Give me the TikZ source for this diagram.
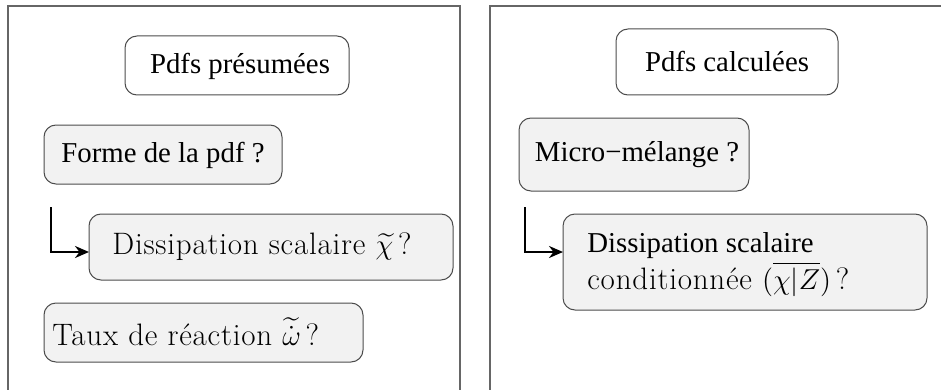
\documentclass[tikz,border=0pt]{standalone}
\usepackage{fontspec}
\usepackage{amsmath}
\newfontfamily\tms{Liberation Serif}
\newfontfamily\lmsp[LetterSpace=2.5]{Latin Modern Roman}
\usetikzlibrary{arrows.meta}
\tikzset{
  panel/.style={draw=black!60, line width=0.9pt},
  plainbox/.style={draw=black!70, rounded corners=6pt, line width=0.5pt, fill=white},
  qbox/.style={draw=black!70, rounded corners=6pt, line width=0.5pt, fill=black!5},
  txt/.style={inner sep=0pt, font=\fontsize{14.4}{17}\selectfont\tms},
  cmtxt/.style={inner sep=0pt, font=\fontsize{15.5}{18}\selectfont\lmsp},
  link/.style={draw=black, line width=1.4pt, -{Stealth[length=7pt,width=6pt]}},
}
\begin{document}
\begin{tikzpicture}[x=0.5pt,y=-0.5pt]
\useasboundingbox (0,0) rectangle (941,390);
% panels
\draw[panel] (8,392) -- (8,6) -- (460,6) -- (460,392);
\draw[panel] (490,392) -- (490,6) -- (943,6);
% left panel boxes
\draw[plainbox] (125,36) rectangle (349,95);
\node[txt] (pp) at (240,66) {Pdfs présumées};
\draw[qbox] (44,125) rectangle (282,184);
\node[txt] (fp) at (163,155) {Forme de la pdf ?};
\draw[qbox] (89,214) rectangle (453,280);
\node[cmtxt, anchor=west] (ds) at (112,247) {Dissipation scalaire $\widetilde{\chi}\,$?};
\draw[qbox] (44,303) rectangle (363,362);
\node[cmtxt, anchor=west] (tr) at (52,332) {Taux de réaction $\widetilde{\dot{\omega}}\,$?};
\coordinate (a1) at (51,207);
\coordinate (a2) at (89,252);
\draw[link] (a1) |- (a2);
% right panel boxes
\draw[plainbox] (616,29) rectangle (838,95);
\node[txt] (pc) at (727,62) {Pdfs calculées};
\draw[qbox] (519,118) rectangle (749,191);
\node[txt] (mm) at (637,155) {Micro−mélange ?};
\draw[qbox] (563,214) rectangle (927,310);
\node[txt, anchor=west] (dc1) at (587,246) {Dissipation scalaire};
\node[cmtxt, anchor=west] (dc2) at (587,279) {conditionnée $(\overline{\chi|Z})\,$?};
\coordinate (b1) at (525,207);
\coordinate (b2) at (563,252);
\draw[link] (b1) |- (b2);
\end{tikzpicture}
\end{document}
